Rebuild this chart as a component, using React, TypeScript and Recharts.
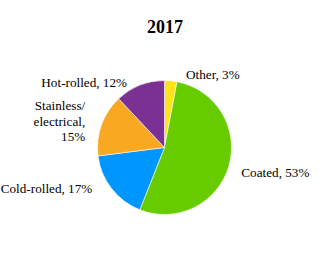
import React from "react";
import { PieChart, Pie, Cell } from "recharts";

const categories = ["Other", "Coated", "Cold-rolled", "Stainless/\nelectrical,", "Hot-rolled"];
const shares = [3, 53, 17, 15, 12];
const COLORS = ["#FFE21A", "#66CC00", "#0096FF", "#F9A822", "#7B3193"];

// small nudges so labels sit roughly where the original placed them
const NUDGE = [
  [14, 7],
  [0, 3],
  [-9, -8],
  [-4, 0],
  [-8, 9],
];

const data = categories.map((name, i) => ({ name, value: shares[i] }));

const RADIAN = Math.PI / 180;
const FONT = "Liberation Serif, serif";
const labelStyle = { fontFamily: FONT, fontSize: 13.2 };

const renderLabel = (props: any) => {
  const { cx, cy, midAngle, outerRadius, index, payload, value } = props;
  const r = outerRadius + 13;
  const x = cx + r * Math.cos(-midAngle * RADIAN) + NUDGE[index][0];
  const y = cy + r * Math.sin(-midAngle * RADIAN) + NUDGE[index][1];
  const anchor = Math.cos(-midAngle * RADIAN) >= 0 ? "start" : "end";
  const lines = String(payload.name).split("\n");
  if (lines.length > 1) {
    // multi-line label: last line holds the value
    const parts = [...lines, `${value}%`];
    return (
      <text x={x} y={y} textAnchor={anchor} fill="#000" style={labelStyle} dominantBaseline="central">
        {parts.map((p, i) => (
          <tspan key={i} x={x} dy={i === 0 ? -15 : 15.5}>
            {p}
          </tspan>
        ))}
      </text>
    );
  }
  return (
    <text x={x} y={y} textAnchor={anchor} fill="#000" style={labelStyle} dominantBaseline="central">
      {`${payload.name}, ${value}%`}
    </text>
  );
};

export default function App() {
  return (
    <div style={{ position: "absolute", left: 0, top: 0, width: 329, height: 266, background: "#fff" }}>
      <PieChart width={329} height={266} margin={{ top: 0, right: 0, bottom: 0, left: 0 }}>
        <text
          x={165}
          y={27}
          textAnchor="middle"
          dominantBaseline="central"
          style={{ fontFamily: FONT, fontWeight: "bold", fontSize: 18 }}
          fill="#000"
        >
          2017
        </text>
        <Pie
          data={data}
          dataKey="value"
          cx={164.5}
          cy={147.5}
          outerRadius={67}
          startAngle={90}
          endAngle={-270}
          isAnimationActive={false}
          label={renderLabel}
          labelLine={false}
        >
          {data.map((d, i) => (
            <Cell key={d.name} fill={COLORS[i]} stroke="#ffffff" strokeWidth={0.6} />
          ))}
        </Pie>
      </PieChart>
    </div>
  );
}
